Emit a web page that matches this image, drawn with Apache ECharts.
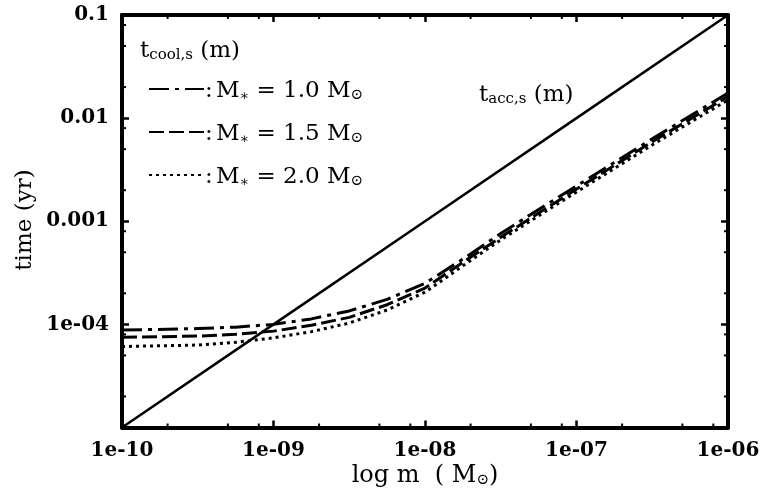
<!DOCTYPE html>
<html>
<head>
<meta charset="utf-8">
<script src="https://cdn.jsdelivr.net/npm/echarts@6/dist/echarts.min.js"></script>
<style>
  html, body { margin: 0; padding: 0; background: #ffffff; }
  #chart { width: 767px; height: 495px; }
</style>
</head>
<body>
<div id="chart"></div>
<script>
// Planetesimal mass grid, log10(m / Msun)
const logMass = [-10, -9.5, -9.25, -9, -8.75, -8.5, -8.25, -8, -7.75, -7.5, -7.25, -7, -6.5, -6];

// Cooling time t_cool,s (yr) for three stellar masses
const tCool10 = [8.8e-5, 9.1e-5, 9.4e-5, 1.0e-4, 1.13e-4, 1.35e-4, 1.75e-4, 2.5e-4, 4.3e-4, 7.6e-4, 1.3e-3, 2.2e-3, 6.3e-3, 1.75e-2];
const tCool15 = [7.5e-5, 7.7e-5, 8.0e-5, 8.6e-5, 9.8e-5, 1.17e-4, 1.55e-4, 2.25e-4, 4.0e-4, 7.0e-4, 1.2e-3, 2.05e-3, 5.9e-3, 1.62e-2];
const tCool20 = [6.1e-5, 6.3e-5, 6.7e-5, 7.4e-5, 8.5e-5, 1.03e-4, 1.38e-4, 2.05e-4, 3.7e-4, 6.6e-4, 1.13e-3, 1.92e-3, 5.5e-3, 1.5e-2];

// Accretion time t_acc,s (yr)
const accMass = [1e-10, 1e-9, 1e-8, 1e-7, 1e-6];
const tAcc = [1e-5, 1e-4, 1e-3, 1e-2, 1e-1];

// Stellar masses (Msun) for the legend
const starMasses = ['1.0', '1.5', '2.0'];

// Axis ticks
const xTickValues = [1e-10, 1e-9, 1e-8, 1e-7, 1e-6];
const xTickLabels = ['1e-10', '1e-09', '1e-08', '1e-07', '1e-06'];
const yTickValues = [1e-5, 1e-4, 1e-3, 1e-2, 1e-1];
const yTickLabels = ['', '1e-04', '0.001', '0.01', '0.1'];
const minorSteps = [2, 5, 8];

const FONT = 'DejaVu Serif';
const INK = '#000000';

function labelFor(values, labels, v) {
  const lv = Math.log10(v);
  let best = 0;
  values.forEach((t, i) => {
    if (Math.abs(Math.log10(t) - lv) < Math.abs(Math.log10(values[best]) - lv)) best = i;
  });
  return Math.abs(Math.log10(values[best]) - lv) < 1e-6 ? labels[best] : '';
}

// Minor tick positions inside each decade
const minorTickData = [];
for (let d = 0; d < xTickValues.length - 1; d++) {
  minorSteps.forEach(s => minorTickData.push([xTickValues[d] * s, 1e-4, 0]));
}
for (let d = 0; d < yTickValues.length - 1; d++) {
  minorSteps.forEach(s => minorTickData.push([1e-9, yTickValues[d] * s, 1]));
}

const coolSets = [tCool10, tCool15, tCool20];
const coolDash = [[20, 6, 4, 6], [15, 5], [3, 4]];
const seriesNames = starMasses.map(m => 'M∗ = ' + m + ' M⊙');

const axisCommon = {
  type: 'log',
  logBase: 10,
  axisLine: { show: true, onZero: false, lineStyle: { color: INK, width: 4 } },
  axisTick: { show: true, inside: true, length: 7, lineStyle: { color: INK, width: 2.5 } },
  splitLine: { show: false },
  minorTick: { show: false }
};

const series = [
  {
    name: 'tacc',
    type: 'line',
    data: accMass.map((m, i) => [m, tAcc[i]]),
    symbol: 'none',
    lineStyle: { color: INK, width: 2.5 },
    z: 3
  }
].concat(coolSets.map((set, k) => ({
  name: seriesNames[k],
  type: 'line',
  data: logMass.map((lm, i) => [Math.pow(10, lm), set[i]]),
  symbol: 'none',
  smooth: false,
  lineStyle: { color: INK, width: 3, type: coolDash[k], cap: 'butt', join: 'round' },
  itemStyle: { color: INK },
  z: 4
}))).concat([{
  name: 'minorTicks',
  type: 'custom',
  data: minorTickData,
  silent: true,
  clip: false,
  renderItem: function (params, api) {
    const cs = params.coordSys;
    const kind = api.value(2);
    const len = 4;
    const style = { stroke: INK, lineWidth: 2 };
    if (kind === 0) {
      const x = api.coord([api.value(0), api.value(1)])[0];
      return {
        type: 'group',
        children: [
          { type: 'line', shape: { x1: x, y1: cs.y + cs.height, x2: x, y2: cs.y + cs.height - len }, style: style },
          { type: 'line', shape: { x1: x, y1: cs.y, x2: x, y2: cs.y + len }, style: style }
        ]
      };
    }
    const y = api.coord([api.value(0), api.value(1)])[1];
    return {
      type: 'group',
      children: [
        { type: 'line', shape: { x1: cs.x, y1: y, x2: cs.x + len, y2: y }, style: style },
        { type: 'line', shape: { x1: cs.x + cs.width, y1: y, x2: cs.x + cs.width - len, y2: y }, style: style }
      ]
    };
  }
}]);

const legendRich = {
  c: { fontFamily: FONT, fontSize: 23, color: INK, lineHeight: 28, verticalAlign: 'bottom' },
  m: { fontFamily: FONT, fontSize: 23, color: INK, lineHeight: 28, verticalAlign: 'bottom' },
  s: { fontFamily: FONT, fontSize: 14, color: INK, lineHeight: 14, verticalAlign: 'bottom' },
  o: { fontFamily: FONT, fontSize: 15, color: INK, lineHeight: 12, verticalAlign: 'bottom' }
};

const option = {
  backgroundColor: '#ffffff',
  animation: false,
  grid: { left: 122, right: 39, top: 15, bottom: 67.5, containLabel: false },
  xAxis: [
    Object.assign({}, axisCommon, {
      position: 'bottom',
      min: 1e-10, max: 1e-6,
      axisLabel: {
        show: true, margin: 13, color: INK,
        fontFamily: FONT, fontWeight: 'bold', fontSize: 20,
        showMinLabel: true, showMaxLabel: true,
        formatter: v => labelFor(xTickValues, xTickLabels, v)
      }
    }),
    Object.assign({}, axisCommon, {
      position: 'top',
      min: 1e-10, max: 1e-6,
      axisLabel: { show: false }
    })
  ],
  yAxis: [
    Object.assign({}, axisCommon, {
      position: 'left',
      min: 1e-5, max: 1e-1,
      axisLabel: {
        show: true, margin: 13, color: INK,
        fontFamily: FONT, fontWeight: 'bold', fontSize: 20,
        showMinLabel: true, showMaxLabel: true,
        formatter: v => labelFor(yTickValues, yTickLabels, v)
      }
    }),
    Object.assign({}, axisCommon, {
      position: 'right',
      min: 1e-5, max: 1e-1,
      axisLabel: { show: false }
    })
  ],
  legend: {
    show: true,
    orient: 'vertical',
    left: 143,
    top: 75,
    itemWidth: 55,
    itemHeight: 20,
    itemGap: 20,
    selectedMode: false,
    data: seriesNames,
    itemStyle: { opacity: 0 },
    formatter: function (name) {
      const k = seriesNames.indexOf(name);
      return '{c|:} {m|M}{s|∗}{m| = ' + starMasses[k] + ' M}{o|⊙}';
    },
    textStyle: { rich: legendRich, padding: [0, 0, 0, -4] }
  },
  series: series,
  graphic: [
    {
      type: 'text',
      left: 140, top: 40,
      style: {
        text: '{t|t}{sub|cool,s}{t| (m)}',
        rich: {
          t: { fontFamily: FONT, fontSize: 23, fill: INK, lineHeight: 28, verticalAlign: 'bottom' },
          sub: { fontFamily: FONT, fontSize: 15, fill: INK, lineHeight: 22, verticalAlign: 'bottom' }
        }
      }
    },
    {
      type: 'text',
      left: 479, top: 84,
      style: {
        text: '{t|t}{sub|acc,s}{t| (m)}',
        rich: {
          t: { fontFamily: FONT, fontSize: 23, fill: INK, lineHeight: 28, verticalAlign: 'bottom' },
          sub: { fontFamily: FONT, fontSize: 15, fill: INK, lineHeight: 22, verticalAlign: 'bottom' }
        }
      }
    },
    {
      type: 'text',
      x: 25, y: 220,
      rotation: Math.PI / 2,
      style: {
        text: 'time (yr)',
        font: '23px "DejaVu Serif"',
        fill: INK,
        align: 'center',
        verticalAlign: 'middle'
      }
    },
    {
      type: 'text',
      x: 425, y: 474,
      style: {
        text: '{t|log m  ( M}{o|⊙}{t|)}',
        align: 'center',
        verticalAlign: 'middle',
        rich: {
          t: { fontFamily: FONT, fontSize: 24, fill: INK, lineHeight: 28, verticalAlign: 'bottom' },
          o: { fontFamily: FONT, fontSize: 15, fill: INK, lineHeight: 12, verticalAlign: 'bottom' }
        }
      }
    }
  ]
};

const chart = echarts.init(document.getElementById('chart'), null, { renderer: 'canvas' });
chart.setOption(option);
</script>
</body>
</html>
